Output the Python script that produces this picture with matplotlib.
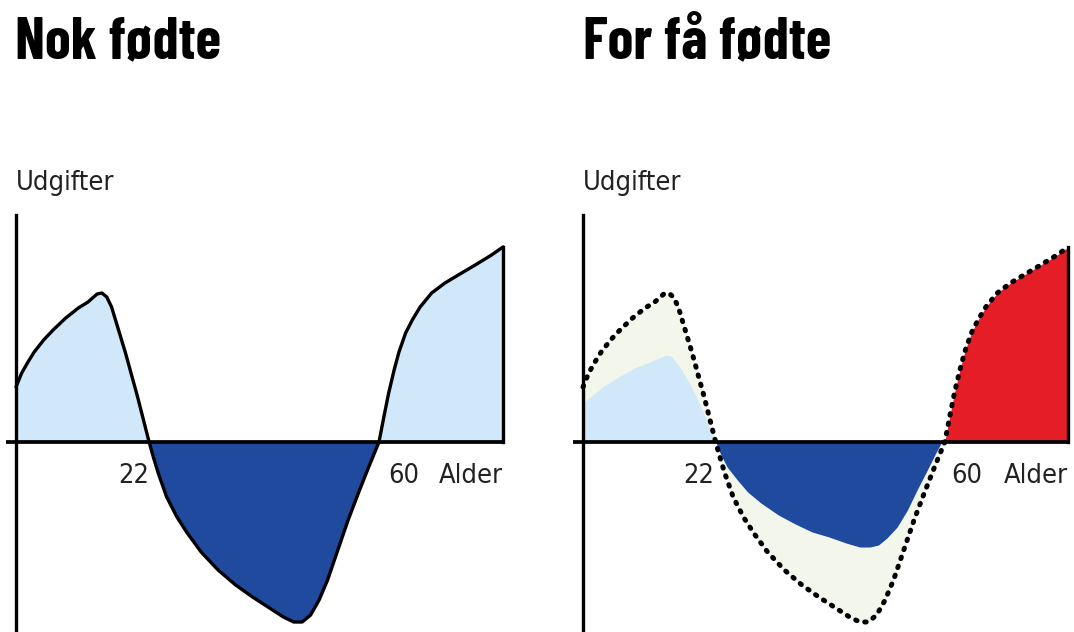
import numpy as np
import matplotlib
matplotlib.use("Agg")
import matplotlib.pyplot as plt
import matplotlib.font_manager as fm

# ---------------- data ----------------
# Expenditure profile over age (arbitrary units, + = cost, - = contribution)
ages = [0, 0.94, 1.98, 3.01, 4.57, 6.13, 8.22, 10.3, 11.9, 13.4, 14.2, 15.0, 15.8, 18.1, 20.1, 22.0,
        22.7, 23.5, 24.9, 26.6, 28.3, 30.6, 33.4, 36.3, 39.1, 41.9, 44.2, 45.9, 47.3, 48.7, 50.1,
        51.5, 53.2, 54.9, 56.6, 58.3, 60.0,
        60.8, 61.6, 62.5, 63.3, 64.4, 65.5, 66.8, 68.7, 70.9, 73.1, 75.9, 78.6, 80.5]
udgifter = [5.5, 6.9, 8.0, 9.0, 10.2, 11.2, 12.4, 13.4, 14.0, 14.8, 14.9, 14.5, 13.5, 8.9, 4.5, 0.0,
            -1.5, -3.1, -5.5, -7.5, -9.1, -11.0, -12.8, -14.3, -15.5, -16.6, -17.5, -18.0, -18.0, -17.3, -15.8,
            -13.8, -10.8, -7.8, -5.1, -2.5, 0.0,
            2.5, 4.9, 7.2, 9.0, 10.9, 12.2, 13.5, 14.9, 15.9, 16.7, 17.7, 18.7, 19.5]

# "For få fødte": the smaller young cohort (light blue) and working cohort (dark blue)
young_ages = [0, 3.2, 5.9, 8.5, 11.1, 13.8, 14.8, 16.4, 18.0, 19.6, 21.2, 22.0]
young_vals = [3.9, 5.5, 6.5, 7.4, 8.0, 8.7, 8.5, 7.2, 5.5, 3.5, 1.2, 0.0]
work_ages = [22, 22.8, 23.9, 25.6, 27.3, 29.5, 32.4, 35.2, 38.0, 40.8, 43.6, 45.9, 47.6, 49.0,
             50.4, 52.1, 53.8, 55.4, 57.1, 58.5, 59.4, 60]
work_vals = [0, -1.2, -2.5, -3.8, -5.0, -6.1, -7.3, -8.2, -9.0, -9.5, -10.1, -10.5, -10.5, -10.3,
             -9.6, -8.5, -6.8, -4.8, -2.8, -1.1, -0.1, 0]

tick_ages = [22, 60]
tick_labels = ["22", "60"]
titles = ["Nok fødte", "For få fødte"]
ylabel = "Udgifter"
xlabel = "Alder"

# ---------------- styling ----------------
LIGHT = "#d0e8f9"
DARK = "#1f4a9e"
RED = "#e41d27"
PALE = "#f3f6ea"
TXT = "#222222"

W, H = 1074, 632
fig = plt.figure(figsize=(W / 100, H / 100), dpi=100)

avail = {f.name for f in fm.fontManager.ttflist}
LABEL_FONT = dict(family="Liberation Sans Narrow") if "Liberation Sans Narrow" in avail \
    else dict(family="DejaVu Sans", stretch="condensed")
TITLE_FONT = dict(family="Barlow Condensed") if "Barlow Condensed" in avail else LABEL_FONT


def panel(px0, px1, age0_px, px_per_year):
    py0, py1 = 140, 632
    ax = fig.add_axes([px0 / W, 1 - py1 / H, (px1 - px0) / W, (py1 - py0) / H])
    ax.set_xlim((px0 - age0_px) / px_per_year, (px1 - age0_px) / px_per_year)
    ax.set_ylim((442 - py1) / 10.0, (442 - py0) / 10.0)
    ax.axis("off")
    return ax


LW = 2.4
a = np.array(ages)
u = np.array(udgifter)

# ---- left panel ----
ax1 = panel(0, 545, 16, 6.05)
ax1.fill_between(a, u, 0, where=u >= 0, interpolate=True, color=LIGHT, lw=0)
ax1.fill_between(a, u, 0, where=u <= 0, interpolate=True, color=DARK, lw=0)
ax1.plot(a, u, color="black", lw=LW, solid_joinstyle="round", solid_capstyle="round", zorder=3)
ax1.plot([a[-1], a[-1]], [0, u[-1]], color="black", lw=LW, zorder=3)

# ---- right panel ----
ax2 = panel(555, 1074, 583, 6.03)
m = a <= 60
ax2.fill_between(a[m], u[m], 0, color=PALE, lw=0)
ax2.fill_between(young_ages, young_vals, 0, color=LIGHT, lw=0)
ax2.fill_between(work_ages, work_vals, 0, color=DARK, lw=0)
mr = a >= 60
ax2.fill_between(a[mr], u[mr], 0, color=RED, lw=0)
ax2.plot(a, u, color="black", lw=3.6, linestyle=(0, (0.3, 1.6)),
         dash_capstyle="round", zorder=3)
ax2.plot([a[-1], a[-1]], [0, u[-1]], color="black", lw=LW, zorder=3)

for ax, off22, off60 in ((ax1, 0, 7), (ax2, -1, 5)):
    ax.plot([0, 0], [ax.get_ylim()[0], 22.7], color="black", lw=LW, zorder=4)
    ax.plot([-1.6, a[-1]], [0, 0], color="black", lw=2.7, zorder=4, solid_capstyle="butt")
    ax.text(0, 25.2, ylabel, ha="left", va="baseline", fontsize=19.5, color=TXT, **LABEL_FONT)
    ax.annotate(tick_labels[0], xy=(tick_ages[0], 0), xytext=(off22, -29.5), textcoords="offset points",
                ha="right", va="baseline", fontsize=19.5, color=TXT, **LABEL_FONT)
    ax.annotate(tick_labels[1], xy=(tick_ages[1], 0), xytext=(off60, -29.5), textcoords="offset points",
                ha="left", va="baseline", fontsize=19.5, color=TXT, **LABEL_FONT)
    ax.annotate(xlabel, xy=(a[-1], 0), xytext=(0, -29.5), textcoords="offset points",
                ha="right", va="baseline", fontsize=19.5, color=TXT, **LABEL_FONT)

for title, x in zip(titles, (15, 583)):
    fig.text(x / W, 1 - 58 / H, title, ha="left", va="baseline", fontsize=42,
             fontweight="bold", color="black", **TITLE_FONT)

fig.savefig("out.png", dpi=100)
